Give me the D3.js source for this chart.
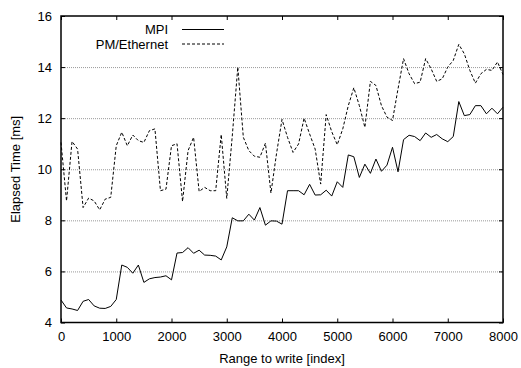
<!DOCTYPE html>
<html>
<head>
<meta charset="utf-8">
<script src="https://cdn.jsdelivr.net/npm/d3@7"></script>
<style>
  body { margin: 0; background: #fff; }
  text { font-family: "Liberation Sans", Arial, sans-serif; font-size: 12px; fill: #000; }
</style>
</head>
<body>
<div id="chart"></div>
<script>
// x positions: range to write, one sample every 100 indices
var writeRange = d3.range(0, 8001, 100);

var mpiTimes = [
  4.88, 4.57, 4.53, 4.47, 4.83, 4.90, 4.65, 4.56, 4.55, 4.63,
  4.90, 6.25, 6.16, 5.93, 6.25, 5.57, 5.71, 5.76, 5.78, 5.83,
  5.67, 6.72, 6.74, 6.93, 6.71, 6.83, 6.64, 6.63, 6.60, 6.45,
  6.96, 8.10, 7.98, 7.98, 8.24, 8.01, 8.50, 7.81, 7.98, 7.97,
  7.85, 9.16, 9.16, 9.16, 9.00, 9.41, 8.99, 9.00, 9.18, 8.95,
  9.51, 9.29, 10.56, 10.49, 9.68, 10.20, 9.84, 10.40, 9.92, 10.16,
  10.86, 9.90, 11.16, 11.33, 11.28, 11.12, 11.42, 11.25, 11.36, 11.19,
  11.08, 11.28, 12.65, 12.10, 12.14, 12.49, 12.49, 12.17, 12.39, 12.17,
  12.43
];

var pmTimes = [
  11.05, 8.76, 11.09, 10.79, 8.50, 8.87, 8.76, 8.41, 8.83, 8.90,
  10.92, 11.45, 10.92, 11.34, 11.12, 11.05, 11.51, 11.58, 9.16, 9.22,
  10.92, 11.00, 8.74, 10.73, 11.25, 9.13, 9.29, 9.16, 9.16, 11.36,
  8.86, 11.30, 14.00, 11.25, 10.73, 10.51, 10.47, 11.02, 9.07, 10.60,
  11.95, 11.25, 10.66, 10.99, 12.00, 11.38, 10.79, 9.42, 12.14, 11.47,
  10.96, 11.58, 12.49, 13.19, 12.49, 11.64, 13.44, 13.28, 12.49, 12.04,
  11.91, 13.15, 14.33, 13.74, 13.35, 13.41, 14.33, 13.93, 13.44, 13.54,
  14.00, 14.26, 14.89, 14.52, 13.87, 13.37, 13.74, 13.91, 13.87, 14.20,
  13.71
];

var xTicks = [0, 1000, 2000, 3000, 4000, 5000, 6000, 7000, 8000];
var yTicks = [4, 6, 8, 10, 12, 14, 16];

var seriesNames = ["MPI", "PM/Ethernet"];

// plot box in page pixels
var W = 521, H = 368;
var plotL = 61, plotR = 503, plotT = 16, plotB = 322.5;

var svg = d3.select("#chart").append("svg")
    .attr("width", W)
    .attr("height", H);

var x = d3.scaleLinear().domain([0, 8000]).range([plotL, plotR]);
var y = d3.scaleLinear().domain([4, 16]).range([plotB, plotT]);

// dotted horizontal grid
svg.append("g")
    .selectAll("line")
    .data(yTicks.filter(function (d) { return d > 4 && d < 16; }))
    .enter().append("line")
    .attr("x1", plotL).attr("x2", plotR)
    .attr("y1", function (d) { return y(d) + 0.5; })
    .attr("y2", function (d) { return y(d) + 0.5; })
    .attr("stroke", "#999")
    .attr("stroke-width", 1)
    .attr("stroke-dasharray", "1,1");

// axes with inward ticks (gnuplot style)
var tickLen = 4;
var fmt = d3.format("d");
svg.append("g")
    .attr("transform", "translate(0," + plotB + ")")
    .call(d3.axisBottom(x).tickValues(xTicks).tickSize(-tickLen).tickPadding(9).tickFormat(fmt))
    .call(function (g) { g.select(".domain").remove(); });

svg.append("g")
    .attr("transform", "translate(0," + plotT + ")")
    .call(d3.axisTop(x).tickValues(xTicks).tickSize(-tickLen).tickFormat(""))
    .call(function (g) { g.select(".domain").remove(); });

svg.append("g")
    .attr("transform", "translate(" + plotL + ",0)")
    .call(d3.axisLeft(y).tickValues(yTicks).tickSize(-tickLen).tickPadding(9).tickFormat(fmt))
    .call(function (g) { g.select(".domain").remove(); });

svg.append("g")
    .attr("transform", "translate(" + plotR + ",0)")
    .call(d3.axisRight(y).tickValues(yTicks).tickSize(-tickLen).tickFormat(""))
    .call(function (g) { g.select(".domain").remove(); });

svg.selectAll(".tick line").attr("stroke", "#000");
svg.selectAll(".tick text")
    .style("font-size", "13px")
    .style("font-family", "'Liberation Sans', Arial, sans-serif");

// frame
svg.append("rect")
    .attr("x", plotL).attr("y", plotT)
    .attr("width", plotR - plotL).attr("height", plotB - plotT)
    .attr("fill", "none")
    .attr("stroke", "#000")
    .attr("stroke-width", 1.5);

// data lines
var line = d3.line()
    .x(function (d) { return x(d[0]); })
    .y(function (d) { return y(d[1]); });

var dashes = [null, "3,2"];
[mpiTimes, pmTimes].forEach(function (vals, i) {
    svg.append("path")
        .datum(writeRange.map(function (r, j) { return [r, vals[j]]; }))
        .attr("d", line)
        .attr("fill", "none")
        .attr("stroke", "#000")
        .attr("stroke-width", 1)
        .attr("stroke-dasharray", dashes[i]);
});

// legend
var legend = svg.append("g");
seriesNames.forEach(function (name, i) {
    var ly = 29.5 + i * 14.5;
    legend.append("text")
        .attr("x", 168).attr("y", ly + 4.5)
        .attr("text-anchor", "end")
        .style("font-size", "13px")
        .text(name);
    legend.append("line")
        .attr("x1", 182).attr("x2", 224)
        .attr("y1", ly).attr("y2", ly)
        .attr("stroke", "#000")
        .attr("stroke-width", 1)
        .attr("stroke-dasharray", dashes[i]);
});

// axis titles
svg.append("text")
    .attr("x", (plotL + plotR) / 2).attr("y", 363)
    .attr("text-anchor", "middle")
    .style("font-size", "13px")
    .text("Range to write [index]");

svg.append("text")
    .attr("transform", "translate(20," + ((plotT + plotB) / 2) + ") rotate(-90)")
    .attr("text-anchor", "middle")
    .style("font-size", "13px")
    .text("Elapsed Time [ms]");
</script>
</body>
</html>
